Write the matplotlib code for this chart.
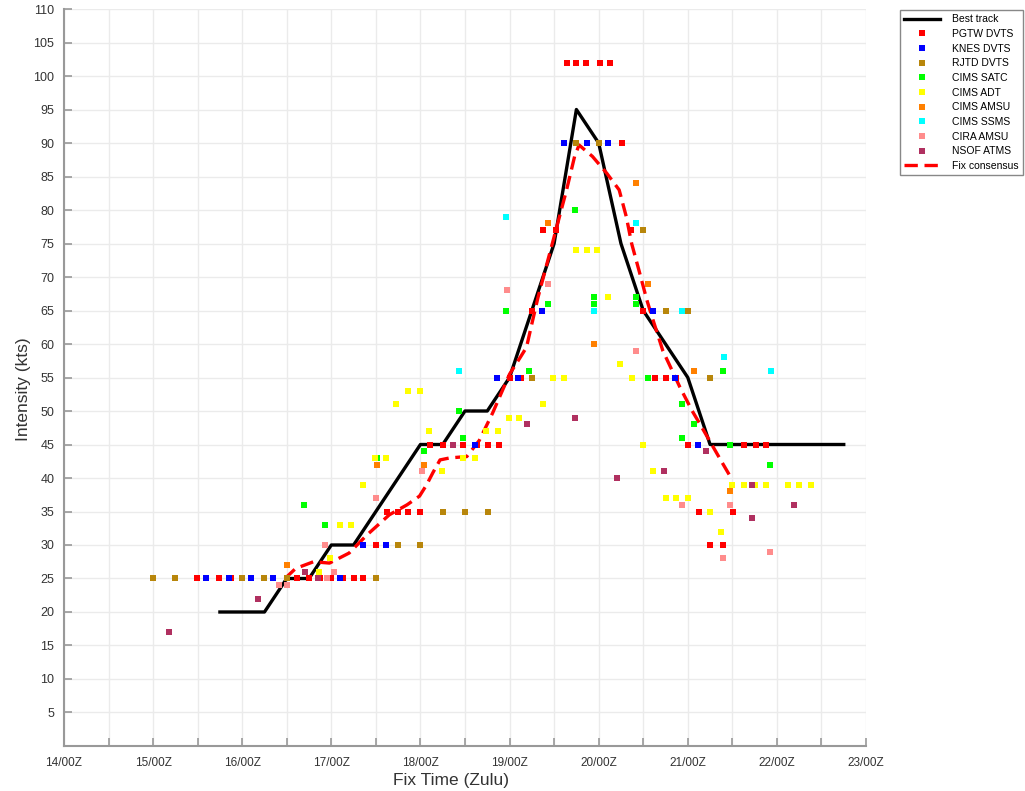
import numpy as np
import matplotlib
matplotlib.use('Agg')
import matplotlib.pyplot as plt

plt.rcParams['font.family'] = ['Liberation Sans', 'DejaVu Sans']

# times are in days of the month (15.5 = 15/12Z)
best_t = [15.75, 16.25, 16.5, 16.75, 17.0, 17.25, 18.0, 18.25, 18.5, 18.75, 19.0, 19.25,
          19.5, 19.75, 20.0, 20.25, 20.5, 21.0, 21.25, 21.5, 21.75, 22.0, 22.25, 22.5, 22.75]
best_v = [20, 20, 25, 25, 30, 30, 45, 45, 50, 50, 55, 65, 75, 95, 90, 75, 65, 55, 45, 45,
          45, 45, 45, 45, 45]

cons_t = [16.48, 16.6, 16.7, 16.8, 16.98, 17.2, 17.4, 17.65, 17.85, 17.99, 18.07, 18.14,
          18.22, 18.33, 18.52, 18.66, 18.81, 19.0, 19.12, 19.19, 19.25, 19.32, 19.4, 19.53,
          19.64, 19.73, 19.78, 19.93, 20.09, 20.23, 20.31, 20.37, 20.46, 20.54, 20.6, 20.72,
          20.91, 21.05, 21.13, 21.39, 21.5]
cons_v = [25, 26.5, 27, 27.5, 27.3, 28.8, 31.5, 34.5, 36, 37.3, 39, 40.8, 42.7, 43, 43.2,
          45.6, 49.7, 55.5, 58, 59.5, 63, 67, 71, 77.5, 83, 88, 89.7, 88, 85.5, 83, 79, 75,
          70.6, 66.6, 64, 59, 53.6, 50, 48.2, 42.2, 39.7]

pgtw_t = [15.49, 15.74, 15.87, 16.61, 16.75, 16.87, 17.0, 17.13, 17.25, 17.36, 17.5, 17.62,
          17.75, 17.86, 18.0, 18.11, 18.25, 18.48, 18.63, 18.76, 18.88, 19.0, 19.13, 19.25,
          19.37, 19.52, 19.64, 19.75, 19.86, 20.01, 20.13, 20.26, 20.36, 20.5, 20.63, 20.76,
          20.87, 21.0, 21.13, 21.25, 21.39, 21.51, 21.63, 21.76, 21.88]
pgtw_v = [25, 25, 25, 25, 25, 25, 25, 25, 25, 25, 30, 35, 35, 35, 35, 45, 45, 45, 45, 45,
          45, 55, 55, 65, 77, 77, 102, 102, 102, 102, 102, 90, 77, 65, 55, 55, 55, 45, 35, 30,
          30, 35, 45, 45, 45]

knes_t = [15.59, 15.85, 16.1, 16.35, 17.1, 17.36, 17.61, 18.61, 18.86, 19.1, 19.36, 19.61,
          19.87, 20.11, 20.61, 20.86, 21.12]
knes_v = [25, 25, 25, 25, 25, 30, 30, 45, 55, 55, 65, 90, 90, 90, 65, 55, 45]

rjtd_t = [15.0, 15.25, 16.0, 16.25, 16.5, 17.5, 17.75, 18.0, 18.25, 18.5, 18.76, 19.25,
          19.75, 20.0, 20.5, 20.75, 21.0, 21.25]
rjtd_v = [25, 25, 25, 25, 25, 25, 30, 30, 35, 35, 35, 55, 90, 90, 77, 65, 65, 55]

satc_t = [16.69, 16.93, 17.51, 18.04, 18.43, 18.48, 18.96, 19.22, 19.43, 19.74, 19.95,
          19.95, 20.42, 20.42, 20.55, 20.94, 20.94, 21.07, 21.4, 21.47, 21.92]
satc_v = [36, 33, 43, 44, 50, 46, 65, 56, 66, 80, 67, 66, 67, 66, 55, 51, 46, 48, 56, 45, 42]

adt_t = [16.86, 16.98, 17.1, 17.22, 17.36, 17.49, 17.61, 17.73, 17.86, 17.99, 18.1, 18.24,
         18.48, 18.61, 18.74, 18.87, 18.99, 19.11, 19.37, 19.49, 19.61, 19.75, 19.87, 19.98,
         20.11, 20.24, 20.37, 20.5, 20.61, 20.75, 20.87, 21.0, 21.25, 21.37, 21.5, 21.63,
         21.75, 21.88, 22.12, 22.25, 22.38]
adt_v = [26, 28, 33, 33, 39, 43, 43, 51, 53, 53, 47, 41, 43, 43, 47, 47, 49, 49, 51, 55, 55,
         74, 74, 74, 67, 57, 55, 45, 41, 37, 37, 37, 35, 32, 39, 39, 39, 39, 39, 39, 39]

amsu_t = [16.5, 17.51, 18.04, 19.43, 19.95, 20.42, 20.55, 21.07, 21.47]
amsu_v = [27, 42, 42, 78, 60, 84, 69, 56, 38]

ssms_t = [18.43, 18.96, 19.95, 20.42, 20.94, 21.41, 21.93]
ssms_v = [56, 79, 65, 78, 65, 58, 56]

cira_t = [16.41, 16.5, 16.93, 16.95, 17.03, 17.5, 18.02, 18.97, 19.43, 20.42, 20.94, 21.4,
          21.47, 21.92]
cira_v = [24, 24, 30, 25, 26, 37, 41, 68, 69, 59, 36, 28, 36, 29]

nsof_t = [15.18, 16.18, 16.7, 16.85, 18.36, 19.2, 19.74, 20.21, 20.73, 21.2, 21.72, 21.72,
          22.19]
nsof_v = [17, 22, 26, 25, 45, 48, 49, 40, 41, 44, 39, 34, 36]

fixes = [
    ('PGTW DVTS', pgtw_t, pgtw_v, '#ff0000'),
    ('KNES DVTS', knes_t, knes_v, '#0000ff'),
    ('RJTD DVTS', rjtd_t, rjtd_v, '#b8860b'),
    ('CIMS SATC', satc_t, satc_v, '#00ff00'),
    ('CIMS ADT', adt_t, adt_v, '#ffff00'),
    ('CIMS AMSU', amsu_t, amsu_v, '#ff8000'),
    ('CIMS SSMS', ssms_t, ssms_v, '#00ffff'),
    ('CIRA AMSU', cira_t, cira_v, '#ff8c8c'),
    ('NSOF ATMS', nsof_t, nsof_v, '#b03060'),
]

fig = plt.figure(figsize=(10.25, 7.91), dpi=100)
ax = fig.add_axes([0.0624, 0.0569, 0.7825, 0.9317])

ax.plot(best_t, best_v, color='black', lw=2.4, label='Best track', zorder=3)
for name, t, v, c in fixes:
    ax.plot(t, v, linestyle='none', marker='s', markersize=5, markeredgewidth=0,
            color=c, label=name, zorder=5)
ax.plot(cons_t, cons_v, color='#ff0000', lw=2.4, linestyle=(0, (4, 2)),
        label='Fix consensus', zorder=4)

ax.set_xlim(14, 23)
ax.set_ylim(0, 110)
xt = np.arange(14, 23.01, 0.5)
ax.set_xticks(xt)
ax.set_xticklabels(['%d/00Z' % d if d == int(d) else '' for d in xt])
ax.set_yticks(np.arange(5, 111, 5))

ax.grid(True, color='#ebebeb', lw=1)
ax.set_axisbelow(True)
for s in ['top', 'right']:
    ax.spines[s].set_visible(False)
for s in ['left', 'bottom']:
    ax.spines[s].set_color('#999999')
    ax.spines[s].set_linewidth(1.5)
ax.tick_params(direction='in', length=6, width=1.2, color='#999999', labelcolor='#333333')
ax.tick_params(axis='x', labelsize=8.5, pad=8)
ax.tick_params(axis='y', labelsize=9, pad=7)

ax.set_xlabel('Fix Time (Zulu)', fontsize=12.5, color='#333333')
ax.set_ylabel('Intensity (kts)', fontsize=12.5, color='#333333')
ax.xaxis.set_label_coords(0.4826, -0.037)
ax.yaxis.set_label_coords(-0.041, 0.484)

leg = fig.legend(loc='upper left', bbox_to_anchor=(900 / 1025, 1 - 10 / 791),
                 fontsize=7.5, fancybox=False, framealpha=1, edgecolor='#888888',
                 handlelength=3.45, handletextpad=1.15, labelspacing=0.45,
                 borderpad=0.4, borderaxespad=0, markerscale=0.9)
leg.get_frame().set_linewidth(1)

fig.savefig('out.png', dpi=100)
